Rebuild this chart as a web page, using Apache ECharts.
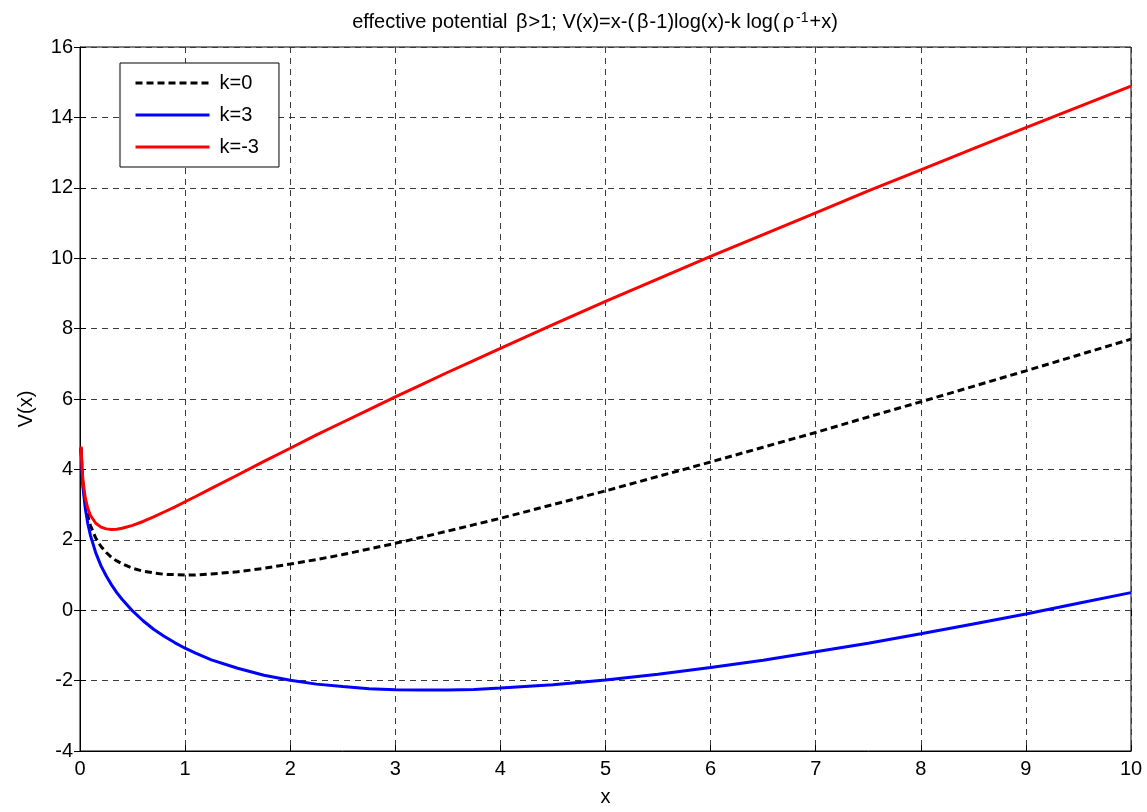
<!DOCTYPE html>
<html>
<head>
<meta charset="utf-8">
<script src="https://cdn.jsdelivr.net/npm/echarts@6/dist/echarts.min.js"></script>
<style>
  html, body { margin: 0; padding: 0; background: #fff; }
  #chart { width: 1147px; height: 812px; }
</style>
</head>
<body>
<div id="chart"></div>
<script>
(function() {
  // sample points along x
  var xs = [0.01, 0.02, 0.03, 0.05, 0.075, 0.1, 0.15, 0.2, 0.25, 0.3, 0.35, 0.4, 0.5, 0.6, 0.7, 0.8, 0.9, 1, 1.1,
    1.25, 1.5, 1.75, 2, 2.25, 2.5, 2.75, 3, 3.25, 3.5, 3.75, 4, 4.5, 5, 5.5, 6, 6.5, 7, 7.5, 8, 8.5, 9, 9.5, 10];

  // k=0 (black dashed)
  var vK0 = [4.62, 3.93, 3.54, 3.05, 2.67, 2.40, 2.05, 1.81, 1.64, 1.50, 1.40, 1.32, 1.19, 1.11, 1.06, 1.02, 1.01, 1.00, 1.00,
    1.03, 1.09, 1.19, 1.31, 1.44, 1.58, 1.74, 1.90, 2.07, 2.25, 2.43, 2.61, 3.00, 3.39, 3.80, 4.21, 4.63, 5.05, 5.49, 5.92, 6.36, 6.80, 7.25, 7.70];
  // k=3 (blue)
  var vK3 = [4.59, 3.87, 3.45, 2.90, 2.45, 2.12, 1.63, 1.26, 0.97, 0.72, 0.50, 0.31, -0.02, -0.30, -0.54, -0.74, -0.92, -1.08, -1.22,
    -1.41, -1.65, -1.85, -1.99, -2.10, -2.17, -2.23, -2.26, -2.27, -2.27, -2.25, -2.21, -2.12, -1.98, -1.82, -1.63, -1.42, -1.18, -0.94, -0.67, -0.39, -0.11, 0.20, 0.50];
  // k=-3 (red)
  var vKm3 = [4.65, 3.99, 3.63, 3.19, 2.88, 2.69, 2.47, 2.36, 2.31, 2.29, 2.30, 2.33, 2.41, 2.52, 2.65, 2.79, 2.93, 3.08, 3.23,
    3.46, 3.84, 4.23, 4.60, 4.98, 5.34, 5.70, 6.06, 6.41, 6.76, 7.10, 7.44, 8.11, 8.77, 9.41, 10.05, 10.67, 11.29, 11.91, 12.51, 13.11, 13.71, 14.30, 14.89];

  var seriesNames = ['k=0', 'k=3', 'k=-3'];

  function pairs(ys) {
    return xs.map(function(x, i) { return [x, ys[i]]; });
  }

  var font = '"Liberation Sans", Arial, sans-serif';
  var gridLine = { show: true, lineStyle: { color: '#3a3a3a', type: [6, 5], width: 1 } };
  var tickIn = { show: true, inside: true, length: 6, lineStyle: { color: '#000' } };

  var chart = echarts.init(document.getElementById('chart'), null, { renderer: 'canvas' });
  chart.setOption({
    animation: false,
    backgroundColor: '#fff',
    title: {
      text: 'effective potential {g|β}>1; V(x)=x-({g|β}-1)log(x)-k log({g|ρ}{sup|-1}+x)',
      left: 590, top: 6, textAlign: 'center',
      textStyle: {
        fontFamily: font, fontSize: 20, fontWeight: 'normal', color: '#000',
        rich: {
          g: { fontFamily: font, fontSize: 20, color: '#000', padding: [0, 1, 0, 3] },
          sup: { fontFamily: font, fontSize: 14, color: '#000', verticalAlign: 'top', padding: [0, 1, 9, 1] }
        }
      }
    },
    legend: {
      data: seriesNames,
      orient: 'vertical',
      left: 120, top: 63,
      padding: [10, 20, 10, 14],
      itemWidth: 74, itemHeight: 20, itemGap: 12,
      itemStyle: { opacity: 0 },
      lineStyle: { width: 3 },
      backgroundColor: '#fff',
      borderColor: '#000', borderWidth: 1, borderRadius: 0,
      textStyle: { fontFamily: font, fontSize: 20, color: '#000', padding: [0, 0, 0, 5] }
    },
    grid: {
      left: 80, right: 16, top: 47, bottom: 56,
      show: true, borderColor: '#000', borderWidth: 1, backgroundColor: 'transparent'
    },
    xAxis: [{
      type: 'value', min: 0, max: 10, interval: 1,
      name: 'x', nameLocation: 'middle', nameGap: 36,
      nameTextStyle: { fontFamily: font, fontSize: 20, color: '#000' },
      axisLine: { show: true, onZero: false, lineStyle: { color: '#000' } },
      axisTick: tickIn,
      axisLabel: { fontFamily: font, fontSize: 20, color: '#000', margin: 8 },
      splitLine: gridLine
    }, {
      type: 'value', min: 0, max: 10, interval: 1, position: 'top',
      axisLine: { show: false }, axisTick: tickIn,
      axisLabel: { show: false }, splitLine: { show: false }
    }],
    yAxis: [{
      type: 'value', min: -4, max: 16, interval: 2,
      name: 'V(x)', nameLocation: 'middle', nameGap: 44, nameRotate: 90,
      nameTextStyle: { fontFamily: font, fontSize: 20, color: '#000', padding: [0, 20, 0, 0] },
      axisLine: { show: true, onZero: false, lineStyle: { color: '#000' } },
      axisTick: tickIn,
      axisLabel: { fontFamily: font, fontSize: 20, color: '#000', margin: 7 },
      splitLine: gridLine
    }, {
      type: 'value', min: -4, max: 16, interval: 2, position: 'right',
      axisLine: { show: false }, axisTick: tickIn,
      axisLabel: { show: false }, splitLine: { show: false }
    }],
    series: [
      { name: 'k=0', type: 'line', data: pairs(vK0), symbol: 'none',
        itemStyle: { color: '#000' },
        lineStyle: { color: '#000', width: 3, type: [7, 4] } },
      { name: 'k=3', type: 'line', data: pairs(vK3), symbol: 'none',
        itemStyle: { color: '#0000ff' },
        lineStyle: { color: '#0000ff', width: 3 } },
      { name: 'k=-3', type: 'line', data: pairs(vKm3), symbol: 'none',
        itemStyle: { color: '#ff0000' },
        lineStyle: { color: '#ff0000', width: 3 } }
    ]
  });
  window.addEventListener('resize', function() { chart.resize(); });
})();
</script>
</body>
</html>
